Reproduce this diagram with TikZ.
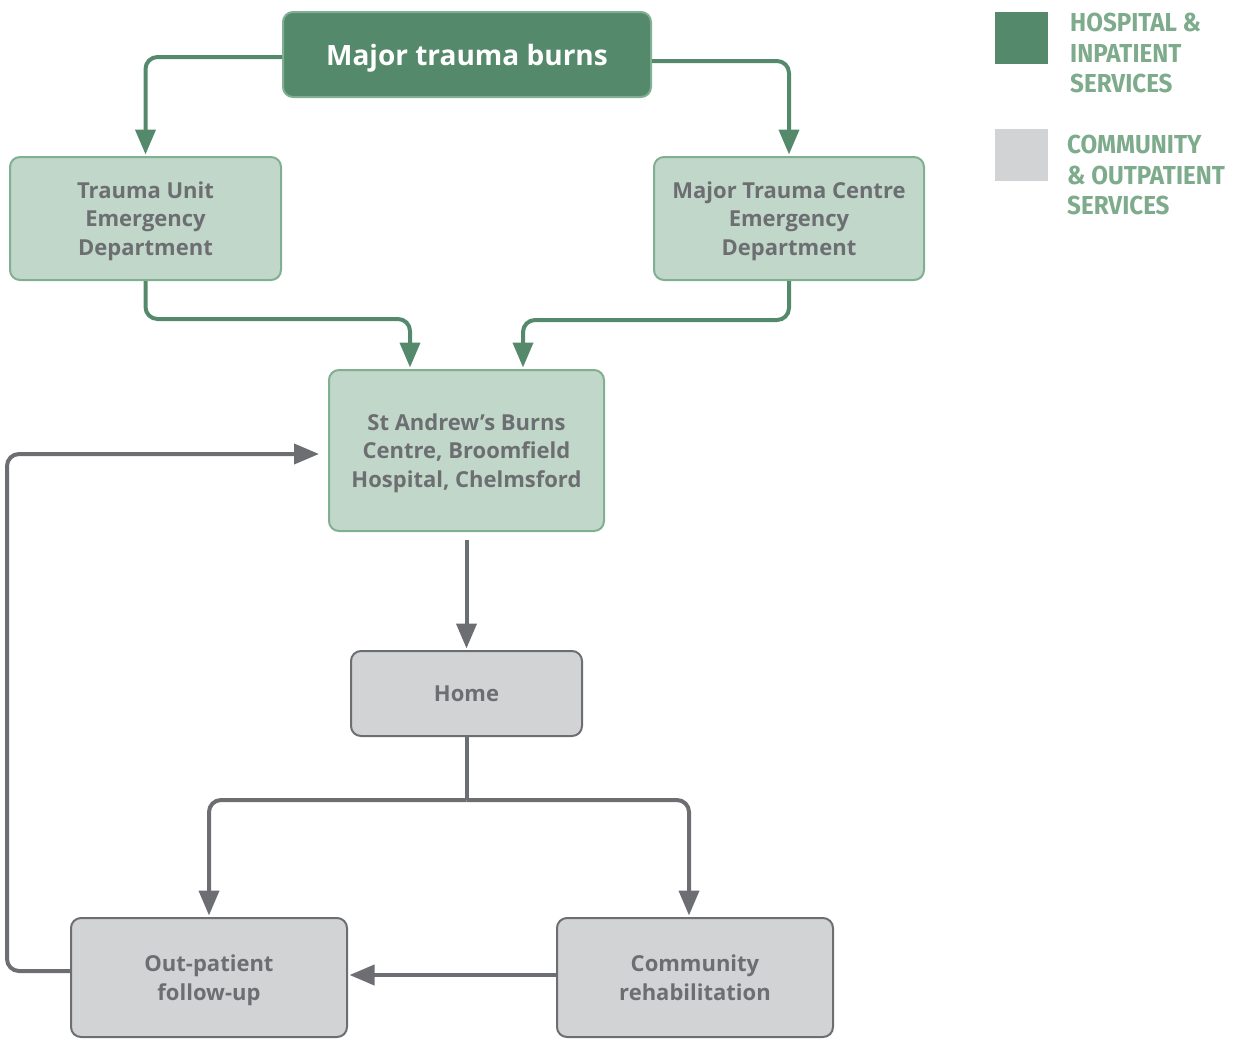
\documentclass[tikz,border=0pt]{standalone}
\usepackage{fontspec}
\usetikzlibrary{arrows.meta,calc}
\IfFontExistsTF{Open Sans SemiBold}
  {\setmainfont{Open Sans}[BoldFont={Open Sans SemiBold}]}
  {\setmainfont{Open Sans}}
\newfontfamily\legendfont{Fira Sans}[FakeStretch=0.93]
\definecolor{dkgreen}{HTML}{548A6B}
\definecolor{ltgreen}{HTML}{C0D7C9}
\definecolor{edgegreen}{HTML}{80AF91}
\definecolor{ltgray}{HTML}{D1D3D4}
\definecolor{dkgray}{HTML}{6D6E71}
\definecolor{legendtext}{HTML}{7DAB8B}
\begin{document}
\begin{tikzpicture}[x=1pt,y=-1pt,
  box/.style={rounded corners=10pt, line width=2pt, align=center, inner sep=0pt,
    text depth=-2pt, font=\bfseries\fontsize{22}{28.5}\selectfont, text=dkgray},
  topbox/.style={box, fill=dkgreen, draw=edgegreen, text=white,
    font=\bfseries\fontsize{28}{34}\selectfont},
  hospbox/.style={box, fill=ltgreen, draw=edgegreen},
  commbox/.style={box, fill=ltgray, draw=dkgray},
  garrow/.style={draw=dkgreen, line width=4pt, rounded corners=12pt,
    -{Triangle[width=20pt,length=25pt]}, shorten >=1.5pt},
  carrow/.style={draw=dkgray, line width=4pt, rounded corners=12pt,
    -{Triangle[width=20pt,length=25pt]}, shorten >=1.5pt},
  legendswatch/.style={minimum width=53pt, minimum height=52pt, inner sep=0pt},
  legendlabel/.style={anchor=north west, align=left, inner sep=0pt, text=legendtext,
    font=\legendfont\bfseries\fontsize{26}{30.5}\selectfont}
]
\useasboundingbox (0,0) rectangle (1234,1039);

% service boxes
\node[topbox, minimum width=368pt, minimum height=85pt] (major) at (467,54.5) {Major trauma burns};
\node[hospbox, minimum width=271pt, minimum height=123pt] (tu) at (145.5,218.5) {Trauma Unit\\Emergency\\Department};
\node[hospbox, minimum width=270pt, minimum height=123pt] (mtc) at (789,218.5) {Major Trauma Centre\\Emergency\\Department};
\node[hospbox, minimum width=275pt, minimum height=161pt] (sta) at (466.5,450.5) {St Andrew’s Burns\\Centre, Broomfield\\Hospital, Chelmsford};
\node[commbox, minimum width=231pt, minimum height=85pt] (home) at (466.5,693.5) {Home};
\node[commbox, minimum width=276pt, minimum height=119pt] (out) at (209,977.5) {Out-patient\\follow-up};
\node[commbox, minimum width=276pt, minimum height=119pt] (comm) at (695,977.5) {Community\\rehabilitation};

% pathways into the burns centre
\draw[garrow] ([yshift=-2.5pt]major.west) -| (tu.north);
\draw[garrow] ([yshift=-6.5pt]major.east) -| (mtc.north);
\draw[garrow] (tu.south) -- ++(0,38) -| ([xshift=-56.5pt]sta.north);
\draw[garrow] (mtc.south) -- ++(0,39) -| ([xshift=56.5pt]sta.north);

% discharge and follow-up
\draw[carrow, shorten <=8pt] (sta.south) -- (home.north);
\coordinate (split) at ($(home.south)+(0,63)$);
\draw[draw=dkgray, line width=4pt] (home.south) -- (split);
\draw[carrow] (split) -| (out.north);
\draw[carrow] (split) -| ([xshift=-6pt]comm.north);
\draw[carrow] ([yshift=2.5pt]comm.west) -- ([yshift=2.5pt]out.east);
\draw[carrow, shorten >=9pt] ([yshift=6.5pt]out.west) -- ++(-63,0) |- ([yshift=-3.5pt]sta.west);

% legend
\node[legendswatch, fill=dkgreen] (lhosp) at (1021.5,37.5) {};
\node[legendlabel] (lhosptext) at (1070,13) {HOSPITAL \&\\INPATIENT\\SERVICES};
\node[legendswatch, fill=ltgray] (lcomm) at (1021.5,155) {};
\node[legendlabel] (lcommtext) at (1067,135) {COMMUNITY\\\& OUTPATIENT\\SERVICES};
\end{tikzpicture}
\end{document}
